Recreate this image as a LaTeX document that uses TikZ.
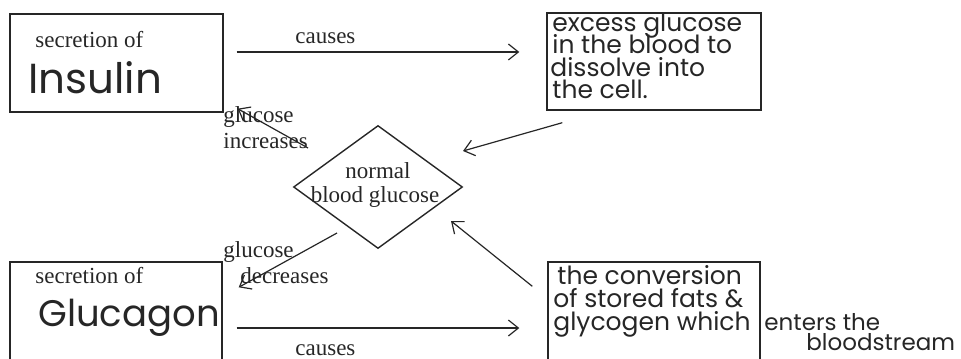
\documentclass[tikz,border=0pt]{standalone}
\usepackage{fontspec}
\setmainfont{Liberation Serif}
\newfontfamily\hand{Poppins}
\usetikzlibrary{shapes.geometric,arrows.meta}
\tikzset{
  box/.style={draw, rectangle, inner sep=0pt, line width=0.7pt},
  printed/.style={inner sep=0pt, anchor=base west, font=\fontsize{11.5}{13}\selectfont},
  bigword/.style={inner sep=0pt, anchor=base west, font=\hand\fontsize{18.5}{22}\selectfont},
  scrawl/.style={inner sep=0pt, anchor=base west, align=left,
    font=\hand\fontsize{12.5}{11}\selectfont},
  arr/.style={-{Straight Barb[length=5pt,width=8pt]}, line width=0.6pt}
}

\begin{document}
\begin{tikzpicture}[x=0.5pt,y=-0.5pt,black!85]
  \clip (0,0) rectangle (961,358);

  % boxes and the diamond
  \node[box, minimum width=106.5pt, minimum height=49pt] (insulin) at (116.5,63) {};
  \node[box, minimum width=107pt, minimum height=48.5pt] (excess) at (654,61.5) {};
  \node[box, minimum width=106pt, minimum height=55pt] (glucagon) at (116,317) {};
  \node[box, minimum width=106pt, minimum height=55pt] (conversion) at (654,317) {};
  \node[draw, diamond, line width=0.7pt, inner sep=0pt, aspect=1.37,
        minimum width=84.5pt, minimum height=61.5pt] (normal) at (378,187) {};

  % texts
  \node[printed] (secr1) at (35,47) {secretion of};
  \node[bigword, font=\hand\fontsize{21}{22}\selectfont] (insword) at (28,93) {Insulin};
  \node[printed] (secr2) at (35,283) {secretion of};
  \node[bigword] (glucword) at (38,326) {Glucagon};
  \node[printed, anchor=base] (norm1) at (378,178) {normal};
  \node[printed, anchor=base] (norm2) at (375,202) {blood glucose};
  \node[printed] (cause1) at (295,44) {causes};
  \node[printed] (cause2) at (295,355) {causes};
  \node[printed] (inc1) at (223,122) {glucose};
  \node[printed] (inc2) at (223,148) {increases};
  \node[printed] (dec1) at (223,257) {glucose};
  \node[printed] (dec2) at (240,283) {decreases};
  \node[scrawl] (ex1) at (552,32) {excess glucose};
  \node[scrawl] (ex2) at (552,54) {in the blood to};
  \node[scrawl] (ex3) at (550,76) {dissolve into};
  \node[scrawl] (ex4) at (552,98) {the cell.};
  \node[scrawl] (cv1) at (557,284) {the conversion};
  \node[scrawl] (cv2) at (553,307) {of stored fats \&};
  \node[scrawl] (cv3) at (553,330) {glycogen which};
  \node[scrawl, font=\hand\fontsize{11.5}{11}\selectfont] (enters) at (764,330) {enters the};
  \node[scrawl, font=\hand\fontsize{11.5}{11}\selectfont] (blood) at (806,350) {bloodstream};

  % free ends of the arrows near the diamond
  \coordinate (hitA) at (463,151);
  \coordinate (hitB) at (451,221);
  \coordinate (fromA) at (308,148);
  \coordinate (fromB) at (337,233);

  % connectors
  \draw[arr] ([xshift=6.5pt,yshift=5.5pt]insulin.east) -- ([xshift=-13.5pt,yshift=4.75pt]excess.west);
  \draw[arr] ([xshift=7pt,yshift=-5.5pt]glucagon.east) -- ([xshift=-14pt,yshift=-5.5pt]conversion.west);
  \draw[arr] ([xshift=8pt,yshift=-6pt]excess.south west) -- (hitA);
  \draw[arr] ([xshift=-7.5pt,yshift=-12.5pt]conversion.north west) -- (hitB);
  \draw[arr] (fromA) -- ([xshift=7pt,yshift=2pt]insulin.south east);
  \draw[arr] (fromB) -- ([xshift=8pt,yshift=-13pt]glucagon.north east);
\end{tikzpicture}
\end{document}
